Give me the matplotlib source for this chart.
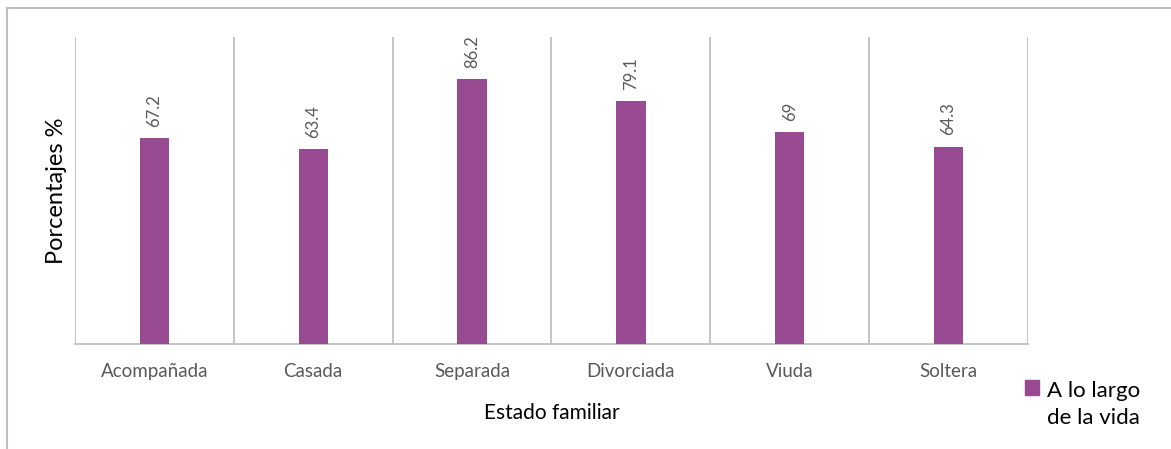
import matplotlib.pyplot as plt
from matplotlib.lines import Line2D
from matplotlib.patches import Patch, Rectangle
from matplotlib.legend_handler import HandlerPatch
import numpy as np

categories = ['Acompañada', 'Casada', 'Separada', 'Divorciada', 'Viuda', 'Soltera']
values = [67.2, 63.4, 86.2, 79.1, 69, 64.3]
value_labels = ['67.2', '63.4', '86.2', '79.1', '69', '64.3']
series_name = 'A lo largo\nde la vida'

plt.rcParams['font.family'] = ['Lato', 'DejaVu Sans']

bar_color = '#984B93'
grid_color = '#BFBFBF'
text_gray = '#595959'

fig = plt.figure(figsize=(11.71, 4.49), dpi=100)
ax = fig.add_axes([75 / 1171, 1 - 344 / 449, (1028 - 75) / 1171, (344 - 37) / 449])

x = np.arange(len(categories))
ax.bar(x, values, width=0.185, color=bar_color, zorder=3)
ax.set_xlim(-0.5, len(categories) - 0.5)
ax.set_ylim(0, 100)

# vertical separators between categories
for b in np.arange(-0.5, len(categories), 1.0):
    ax.axvline(b, color=grid_color, lw=1.3, zorder=1)

for xi, v, lab in zip(x, values, value_labels):
    ax.annotate(lab, (xi, v), xytext=(0, 8), textcoords='offset points',
                rotation=90, ha='center', va='bottom', color=text_gray, fontsize=12)

for s in ['top', 'right', 'left']:
    ax.spines[s].set_visible(False)
ax.spines['bottom'].set_color(grid_color)
ax.spines['bottom'].set_linewidth(1.3)
ax.set_yticks([])
ax.set_xticks(x)
ax.set_xticklabels(categories, color=text_gray, fontsize=13.5)
ax.tick_params(axis='x', length=0, pad=14)

ax.set_ylabel('Porcentajes %', fontsize=17, color='black', labelpad=6)
ax.set_xlabel('Estado familiar', fontsize=15, color='black', labelpad=16)


# legend square sits next to the first line of the label
def top_square(legend, orig_handle, xdescent, ydescent, width, height, fontsize):
    return Rectangle((-xdescent, -ydescent + 12.5), width, height)


handles = [Patch(color=bar_color, label=series_name)]
leg = fig.legend(handles=handles, loc='upper left', bbox_to_anchor=(1016 / 1171, 1 - 372 / 449),
                 frameon=False, fontsize=16, handlelength=0.65, handleheight=0.65,
                 handletextpad=0.35, borderaxespad=0,
                 handler_map={Patch: HandlerPatch(patch_func=top_square)})
for t in leg.get_texts():
    t.set_linespacing(1.45)

# outer chart border (top and left edges visible)
fig.add_artist(Line2D([7 / 1171, 7 / 1171], [0, 1 - 8 / 449], color=grid_color, lw=1.5,
                      transform=fig.transFigure))
fig.add_artist(Line2D([7 / 1171, 1], [1 - 8 / 449, 1 - 8 / 449], color=grid_color, lw=1.5,
                      transform=fig.transFigure))

fig.savefig('out.png', dpi=100)
